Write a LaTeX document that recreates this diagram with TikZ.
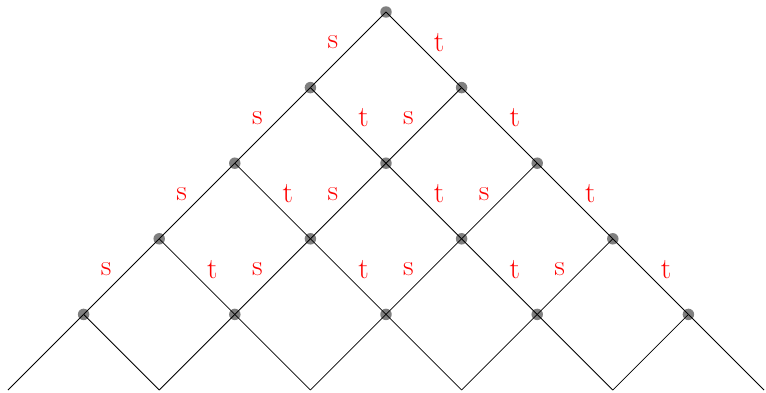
\documentclass[tikz,border=0pt]{standalone}
\begin{document}
\begin{tikzpicture}[x=0.75pt,y=-0.75pt,
  edge/.style={black,line width=0.6pt},
  dot/.style={circle,fill=black,fill opacity=0.5,inner sep=0pt,minimum size=8.6pt},
  lab/.style={text=red,font=\fontsize{22}{26}\selectfont,inner sep=0pt}]
\useasboundingbox (0,0) rectangle (766,392);
% lattice points
\foreach \i in {0,...,5}{
  \foreach \j in {0,...,\i}{
    \coordinate (n-\i-\j) at ({386+(2*\j-\i)*75.6},{12+\i*75.6});
  }
}
% edges
\foreach \i in {0,...,4}{
  \pgfmathtruncatemacro{\k}{\i+1}
  \foreach \j in {0,...,\i}{
    \pgfmathtruncatemacro{\m}{\j+1}
    \draw[edge] (n-\i-\j) -- (n-\k-\j);
    \draw[edge] (n-\i-\j) -- (n-\k-\m);
  }
}
% labels
\foreach \i in {0,...,3}{
  \pgfmathtruncatemacro{\k}{\i+1}
  \foreach \j in {0,...,\i}{
    \pgfmathtruncatemacro{\m}{\j+1}
    \path (n-\i-\j) -- (n-\k-\j) node[lab,midway,xshift=-11.5pt,yshift=5.5pt] (s-\i-\j) {s};
    \path (n-\i-\j) -- (n-\k-\m) node[lab,midway,xshift=11.5pt,yshift=5.5pt] (t-\i-\j) {t};
  }
}
% dots
\foreach \i in {0,...,4}{
  \foreach \j in {0,...,\i}{
    \node[dot] (d-\i-\j) at (n-\i-\j) {};
  }
}
\end{tikzpicture}
\end{document}
